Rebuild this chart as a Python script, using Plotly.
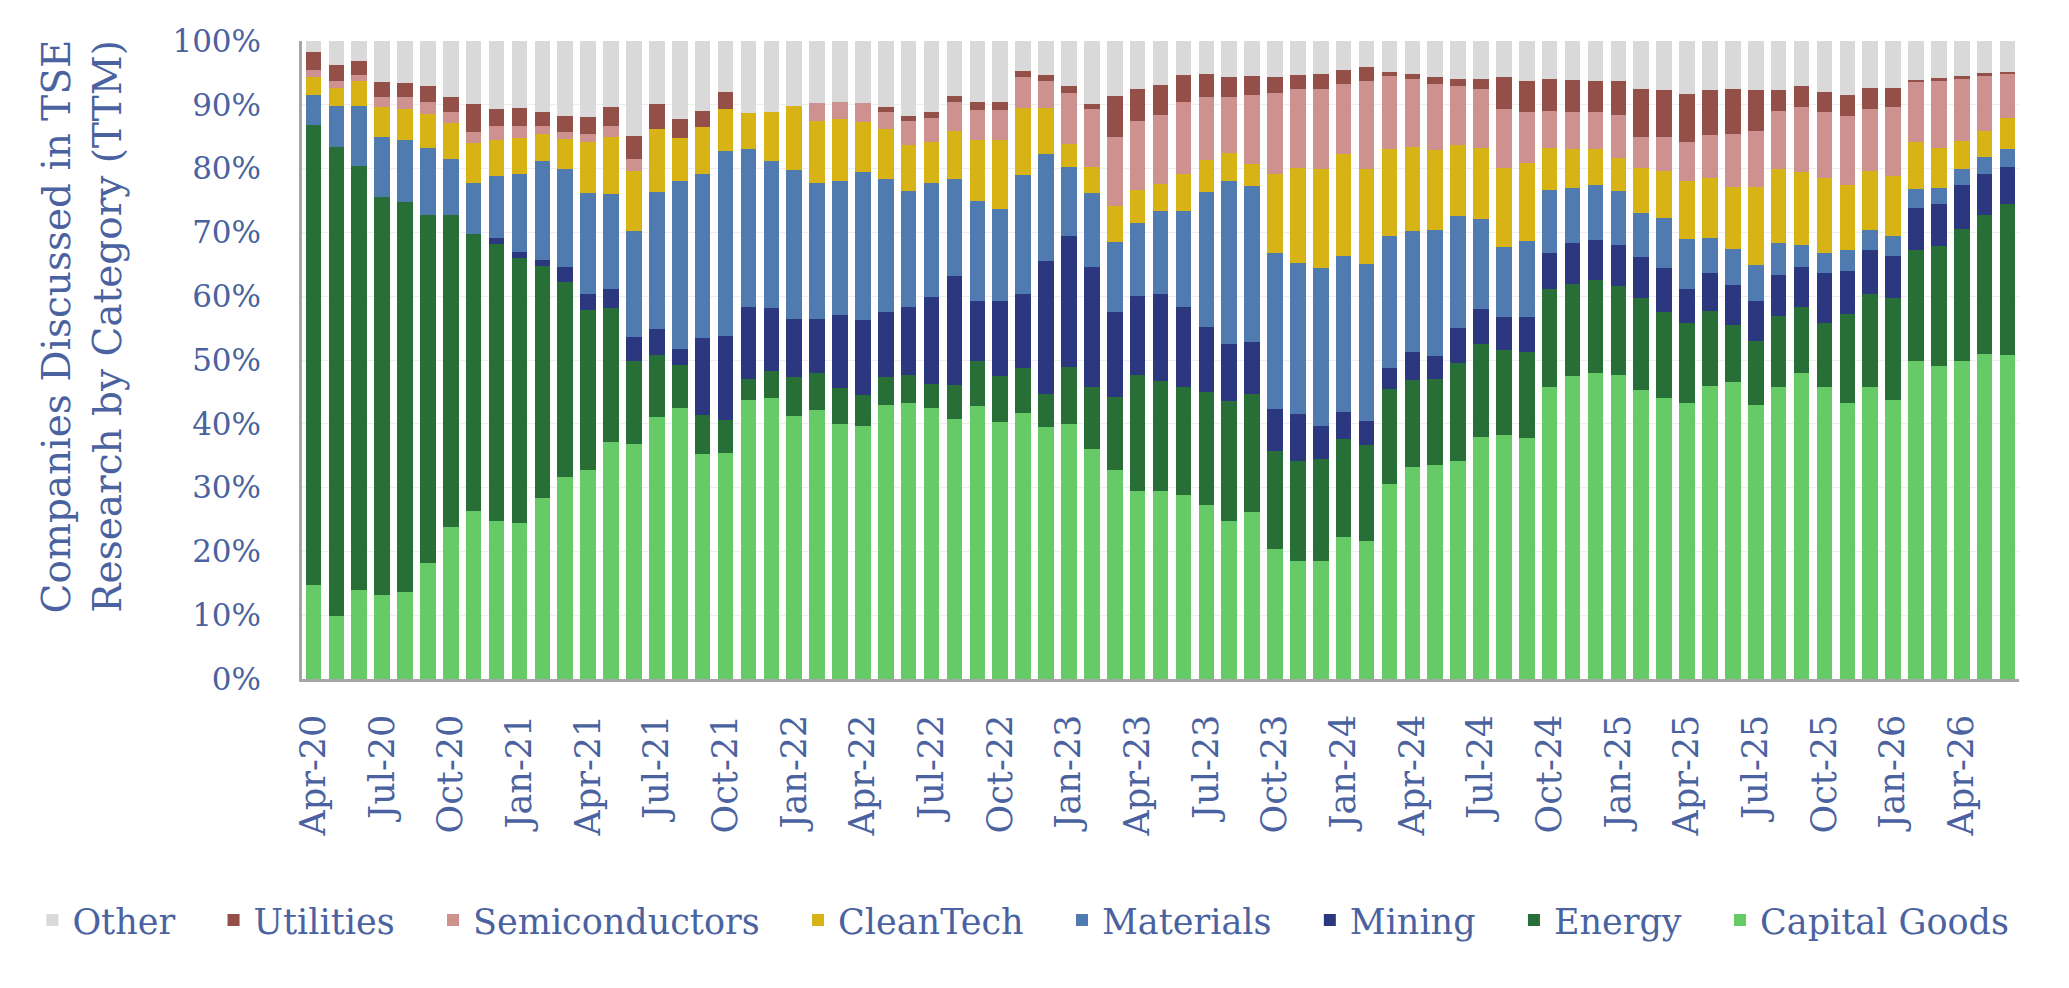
import plotly.graph_objects as go

# ---- categories (monthly, Apr-20 .. Jun-26) ----
month_names = ["Jan", "Feb", "Mar", "Apr", "May", "Jun",
               "Jul", "Aug", "Sep", "Oct", "Nov", "Dec"]
years = ["20", "21", "22", "23", "24", "25", "26"]
months = [f"{m}-{y}" for y in years for m in month_names][3:78]
tick_labels = months[0::3][:25]  # Apr-20 ... Apr-26

# ---- series values (% of companies discussed, TTM) ----
capital_goods = [14.8, 9.9, 14.0, 13.2, 13.7, 18.2, 23.9, 26.4, 24.8, 24.4,
                 28.4, 31.7, 32.8, 37.2, 36.9, 41.1, 42.4, 35.3, 35.4, 43.8,
                 44.0, 41.3, 42.2, 39.9, 39.7, 43.0, 43.2, 42.5, 40.8, 42.8,
                 40.3, 41.7, 39.5, 39.9, 36.0, 32.8, 29.4, 29.5, 28.8, 27.3,
                 24.7, 26.2, 20.4, 18.5, 18.5, 22.3, 21.7, 30.6, 33.3, 33.5,
                 34.1, 38.0, 38.2, 37.8, 45.7, 47.5, 48.0, 47.7, 45.3, 44.1,
                 43.3, 46.0, 46.5, 43.0, 45.7, 47.9, 45.8, 43.3, 45.7, 43.8,
                 49.9, 49.0, 49.9, 51.0, 50.8]
energy = [72.0, 73.5, 66.4, 62.4, 61.1, 54.5, 48.8, 43.3, 43.4, 41.6,
          36.4, 30.5, 25.1, 21.0, 13.0, 9.7, 6.8, 6.1, 5.2, 3.2,
          4.3, 6.1, 5.7, 5.7, 4.8, 4.3, 4.5, 3.7, 5.3, 7.0,
          7.2, 7.0, 5.2, 9.0, 9.7, 11.4, 18.2, 17.2, 16.9, 17.7,
          18.9, 18.5, 15.4, 15.7, 16.0, 15.3, 14.9, 14.9, 13.6, 13.6,
          15.4, 14.5, 13.4, 13.4, 15.4, 14.4, 14.5, 13.9, 14.4, 13.4,
          12.5, 11.7, 9.0, 10.0, 11.2, 10.4, 10.0, 13.9, 14.6, 15.9,
          17.4, 18.9, 20.7, 21.7, 23.7]
mining = [0, 0, 0, 0, 0, 0, 0, 0, 0.9, 0.9,
          0.9, 2.3, 2.4, 2.9, 3.7, 4.0, 2.6, 12.1, 13.1, 11.3,
          9.8, 9.0, 8.6, 11.4, 11.7, 10.3, 10.6, 13.7, 17.1, 9.5,
          11.8, 11.6, 20.8, 20.6, 18.8, 13.4, 12.5, 13.6, 12.6, 10.1,
          8.9, 8.2, 6.5, 7.3, 5.1, 4.2, 3.9, 3.3, 4.3, 3.5,
          5.5, 5.5, 5.2, 5.5, 5.6, 6.4, 6.3, 6.5, 6.5, 6.9,
          5.4, 5.9, 6.2, 6.2, 6.4, 6.3, 7.8, 6.7, 6.9, 6.6,
          6.6, 6.6, 6.8, 6.5, 5.7]
materials = [4.8, 6.4, 9.4, 9.3, 9.7, 10.5, 8.8, 8.1, 9.7, 12.2,
             15.5, 15.4, 15.9, 14.9, 16.6, 21.6, 26.3, 25.6, 29.0, 24.7,
             23.1, 23.4, 21.3, 21.1, 23.3, 20.7, 18.2, 17.9, 15.1, 15.6,
             14.4, 18.7, 16.8, 10.7, 11.7, 10.9, 11.4, 13.0, 15.0, 21.3,
             25.6, 24.3, 24.4, 23.7, 24.8, 24.5, 24.5, 20.7, 19.0, 19.8,
             17.5, 14.1, 10.9, 11.9, 9.9, 8.7, 8.6, 8.4, 6.9, 7.8,
             7.8, 5.5, 5.7, 5.7, 5.0, 3.5, 3.1, 3.4, 3.2, 3.2,
             2.9, 2.4, 2.6, 2.6, 2.8]
cleantech = [2.8, 2.9, 3.9, 4.7, 4.9, 5.4, 5.6, 6.2, 5.7, 5.7,
             4.3, 4.7, 8.0, 9.0, 9.5, 9.8, 6.7, 7.4, 6.7, 5.7,
             7.7, 10.0, 9.7, 9.6, 7.8, 7.9, 7.2, 6.4, 7.6, 9.6,
             10.8, 10.5, 7.2, 3.6, 4.1, 5.6, 5.1, 4.3, 5.8, 5.0,
             4.3, 3.5, 12.4, 14.9, 15.5, 16.0, 14.9, 13.5, 13.2, 12.5,
             11.2, 11.1, 12.4, 12.3, 6.6, 6.0, 5.6, 5.2, 7.0, 7.4,
             9.1, 9.4, 9.7, 12.2, 11.7, 11.4, 11.8, 10.1, 9.3, 9.3,
             7.4, 6.3, 4.3, 4.1, 4.9]
semiconductors = [1.0, 1.0, 0.9, 1.7, 1.8, 1.8, 1.7, 1.8, 2.1, 1.9,
                  1.2, 1.2, 1.3, 1.6, 1.8, 0, 0, 0, 0, 0,
                  0, 0, 2.8, 2.7, 3.0, 2.6, 3.7, 3.8, 4.5, 4.7,
                  4.7, 4.8, 4.2, 8.1, 9.1, 10.9, 10.9, 10.8, 11.3, 9.8,
                  8.8, 10.8, 12.8, 12.3, 12.6, 10.9, 13.9, 11.5, 10.7, 10.4,
                  9.2, 9.2, 9.3, 7.9, 5.8, 5.8, 5.8, 6.7, 4.9, 5.4,
                  6.1, 6.7, 8.4, 8.8, 9.1, 10.1, 10.3, 10.9, 9.7, 10.8,
                  9.3, 10.5, 9.8, 8.6, 6.9]
utilities = [2.8, 2.5, 2.2, 2.3, 2.2, 2.6, 2.4, 4.4, 2.8, 2.8,
             2.2, 2.5, 2.6, 3.0, 3.6, 4.0, 2.9, 2.6, 2.6, 0,
             0, 0, 0, 0, 0, 0.8, 0.9, 0.9, 1.0, 1.2,
             1.2, 1.0, 1.0, 1.0, 0.8, 6.4, 5.0, 4.7, 4.3, 3.7,
             3.1, 3.0, 2.4, 2.3, 2.4, 2.2, 2.1, 0.6, 0.8, 1.1,
             1.2, 1.7, 4.9, 4.9, 5.1, 5.1, 4.9, 5.3, 7.5, 7.3,
             7.5, 7.1, 7.0, 6.4, 3.2, 3.3, 3.2, 3.3, 3.3, 3.1,
             0.4, 0.5, 0.4, 0.5, 0.4]
other = [1.8, 3.8, 3.2, 6.4, 6.6, 7.0, 8.8, 9.8, 10.6, 10.5,
         11.1, 11.7, 11.9, 10.4, 14.9, 9.8, 12.3, 10.9, 8.0, 11.3,
         11.1, 10.2, 9.7, 9.6, 9.7, 10.4, 11.7, 11.1, 8.6, 9.6,
         9.6, 4.7, 5.3, 7.1, 9.8, 8.6, 7.5, 6.9, 5.3, 5.1,
         5.7, 5.5, 5.7, 5.3, 5.1, 4.6, 4.1, 4.9, 5.1, 5.6,
         5.9, 5.9, 5.7, 6.3, 5.9, 6.1, 6.3, 6.3, 7.5, 7.7,
         8.3, 7.7, 7.5, 7.7, 7.7, 7.1, 8.0, 8.4, 7.3, 7.3,
         6.1, 5.8, 5.5, 5.0, 5.0]

y_ticks = [0, 10, 20, 30, 40, 50, 60, 70, 80, 90, 100]

series = [
    ("Capital Goods", capital_goods, "#66cb66"),
    ("Energy", energy, "#276f36"),
    ("Mining", mining, "#2b377f"),
    ("Materials", materials, "#4f7bb0"),
    ("CleanTech", cleantech, "#d8b316"),
    ("Semiconductors", semiconductors, "#cd9290"),
    ("Utilities", utilities, "#944f48"),
    ("Other", other, "#d9d9d9"),
]

TEXT = "#4a62a0"
FONT = "DejaVu Serif"
PAD = "\u00a0\u00a0\u00a0"  # extra spacing after each legend entry

fig = go.Figure()
for i, (name, vals, color) in enumerate(series):
    label = name if i == 0 else name + PAD  # last legend entry needs no trailing gap
    fig.add_trace(go.Bar(x=months, y=vals, name=label,
                         marker=dict(color=color, line=dict(width=0))))

fig.update_layout(
    width=2069, height=988,
    barmode="stack", bargap=0.32,
    plot_bgcolor="white", paper_bgcolor="white",
    margin=dict(l=302, r=50, t=41, b=309),
    font=dict(family=FONT, color=TEXT),
    showlegend=True,
    legend=dict(orientation="h", traceorder="reversed",
                x=-0.157, xanchor="left", y=-0.378, yanchor="middle",
                font=dict(family=FONT, size=35, color=TEXT)),
    annotations=[dict(
        text="Companies Discussed in TSE<br>Research by Category (TTM)",
        xref="paper", yref="paper", x=-0.128, y=0.553,
        xanchor="center", yanchor="middle", textangle=-90,
        showarrow=False, font=dict(family=FONT, size=39, color=TEXT))],
)
fig.update_xaxes(
    type="category", tickmode="array", tickvals=tick_labels, ticktext=tick_labels,
    tickangle=-90, tickfont=dict(family=FONT, size=35, color=TEXT),
    showline=True, linecolor="#a6a6a6", linewidth=2.5, showgrid=False,
    ticks="", ticklabelstandoff=19,
)
fig.update_yaxes(
    range=[0, 100], tickmode="array", tickvals=y_ticks,
    ticktext=[f"{v}%" for v in y_ticks],
    tickfont=dict(family=FONT, size=31, color=TEXT),
    showline=True, linecolor="#a6a6a6", linewidth=2.5,
    showgrid=True, gridcolor="#ededed", gridwidth=1,
    zeroline=False, ticks="", ticklabelstandoff=32,
)

fig.write_html("out.html")
